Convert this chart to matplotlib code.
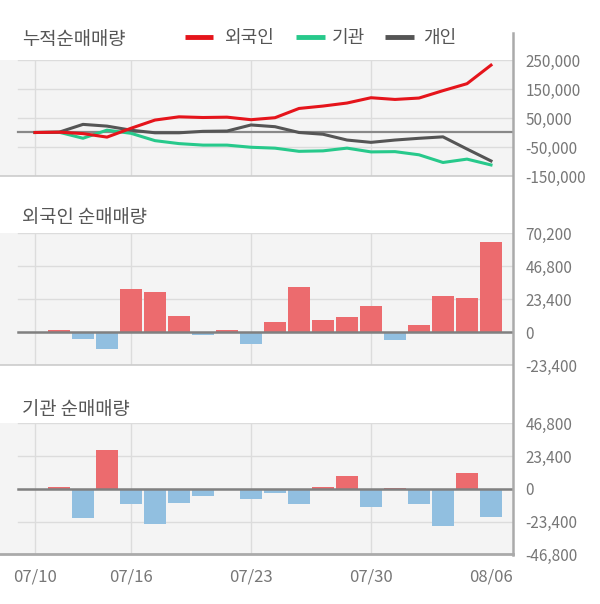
import matplotlib
matplotlib.use("Agg")
import matplotlib.pyplot as plt
from matplotlib.lines import Line2D
import numpy as np

plt.rcParams['font.family'] = ['Noto Sans CJK KR', 'DejaVu Sans']

dates = ["07/10", "07/11", "07/12", "07/15", "07/16", "07/17", "07/18", "07/19",
         "07/22", "07/23", "07/24", "07/25", "07/26", "07/29", "07/30", "07/31",
         "08/01", "08/02", "08/05", "08/06"]
tick_dates = ["07/10", "07/16", "07/23", "07/30", "08/06"]

# daily net purchases
foreign_daily = [0, 1200, -5000, -12100, 30500, 28300, 11200, -2400, 1200, -8800,
                 6900, 31900, 8300, 10400, 18300, -5900, 4800, 25500, 24000, 64000]
inst_daily = [0, 1000, -20800, 27900, -10900, -25300, -10200, -5200, 0, -7400,
              -3100, -10900, 1600, 9400, -13000, 900, -10900, -26500, 11600, -20100]

# cumulative net purchases
foreign_cum = [0, 1200, -3800, -15900, 14600, 42900, 54100, 51700, 52900, 44100,
               51000, 82900, 91200, 101600, 119900, 114000, 118800, 144300, 168300, 232300]
inst_cum = [0, 1000, -19800, 8100, -2800, -28100, -38300, -43500, -43500, -50900,
            -54000, -64900, -63300, -53900, -66900, -66000, -76900, -103400, -91800, -111900]
indiv_cum = [0, 1000, 28000, 22000, 8000, -1000, -1000, 4000, 5000, 26000,
             20000, 0, -6000, -26000, -34000, -26000, -20000, -15000, -57000, -98000]

top_ticks = [250000, 150000, 50000, -50000, -150000]
top_labels = ["250,000", "150,000", "50,000", "-50,000", "-150,000"]
mid_ticks = [70200, 46800, 23400, 0, -23400]
mid_labels = ["70,200", "46,800", "23,400", "0", "-23,400"]
bot_ticks = [46800, 23400, 0, -23400, -46800]
bot_labels = ["46,800", "23,400", "0", "-23,400", "-46,800"]

RED = "#e5141b"
GREEN = "#27c98b"
DARK = "#555555"
BAR_RED = "#ec6b6e"
BAR_BLUE = "#91bfe0"
BG = "#f4f4f4"
GRID = "#dcdcdc"
TXT = "#555555"
LBL = "#777777"

W, H = 600, 604
fig = plt.figure(figsize=(6, 6.04), dpi=100)

def fy(p):
    return 1 - p / H

def fx(p):
    return p / W

x = np.arange(len(dates))
xl = (-35 / 24, (513 - 35) / 24)
vgrid = [dates.index(d) for d in ["07/10", "07/16", "07/23", "07/30"]]

def setup(ax, ticks, labels, lo, hi, bottom_color, bottom_lw):
    ax.set_facecolor(BG)
    ax.set_xlim(*xl)
    ax.set_ylim(lo, hi)
    for s in ax.spines.values():
        s.set_visible(False)
    for t in ticks:
        ax.axhline(t, xmin=18 / 513, xmax=1, color=GRID, lw=1.0, zorder=0.5)
    for v in vgrid:
        ax.axvline(v, color=GRID, lw=1.0, zorder=0.5)
    ax.yaxis.tick_right()
    ax.set_yticks(ticks)
    ax.set_yticklabels(labels)
    ax.tick_params(axis='y', length=0, pad=9, labelsize=11, labelcolor=LBL)
    ax.set_xticks([])
    ax.axhline(lo, color=bottom_color, lw=bottom_lw, zorder=3, clip_on=False)

# top axes
ax1 = fig.add_axes([0, fy(176), fx(513), (176 - 60) / H])
setup(ax1, top_ticks, top_labels, -150000, 250000, "#cccccc", 1.2)
ax1.axhline(0, xmin=18 / 513, xmax=1, color="#888888", lw=1.6, zorder=1)
ax1.plot(x, inst_cum, color=GREEN, lw=2.2, zorder=2)
ax1.plot(x, indiv_cum, color=DARK, lw=2.2, zorder=2)
ax1.plot(x, foreign_cum, color=RED, lw=2.2, zorder=3)

# middle axes
ax2 = fig.add_axes([0, fy(365), fx(513), (365 - 233.3) / H])
setup(ax2, mid_ticks, mid_labels, -23400, 70200, "#cccccc", 1.2)
ax2.bar(x, foreign_daily, width=0.95,
        color=[BAR_RED if v >= 0 else BAR_BLUE for v in foreign_daily], zorder=2)
ax2.axhline(0, xmin=18 / 513, xmax=1, color="#808080", lw=1.8, zorder=3)

# bottom axes
ax3 = fig.add_axes([0, fy(554.3), fx(513), (554.3 - 423.3) / H])
setup(ax3, bot_ticks, bot_labels, -46800, 46800, "#aaaaaa", 2.0)
ax3.bar(x, inst_daily, width=0.95,
        color=[BAR_RED if v >= 0 else BAR_BLUE for v in inst_daily], zorder=2)
ax3.axhline(0, xmin=18 / 513, xmax=1, color="#808080", lw=1.8, zorder=3)
ax3.set_xticks([dates.index(d) for d in tick_dates])
ax3.set_xticklabels(tick_dates)
ax3.tick_params(axis='x', length=0, pad=10, labelsize=12, labelcolor=LBL)

# right vertical axis line
fig.add_artist(Line2D([fx(513), fx(513)], [fy(33), fy(555)], color="#aaaaaa", lw=1.8))

# titles
fig.text(fx(22), fy(40), "누적순매매량", fontsize=13.5, color=TXT, va='center', ha='left')
fig.text(fx(22), fy(218), "외국인 순매매량", fontsize=13.5, color=TXT, va='center', ha='left')
fig.text(fx(22), fy(409), "기관 순매매량", fontsize=13.5, color=TXT, va='center', ha='left')

# legend
legend_items = [("외국인", RED, 185, 213, 224), ("기관", GREEN, 296, 325, 332), ("개인", DARK, 385, 414, 423)]
for name, col, x0, x1, tx in legend_items:
    fig.add_artist(Line2D([fx(x0), fx(x1)], [fy(37), fy(37)], color=col, lw=3.5, solid_capstyle='butt'))
    fig.text(fx(tx), fy(38), name, fontsize=13, color=TXT, va='center', ha='left')

fig.savefig("out.png", dpi=100)
